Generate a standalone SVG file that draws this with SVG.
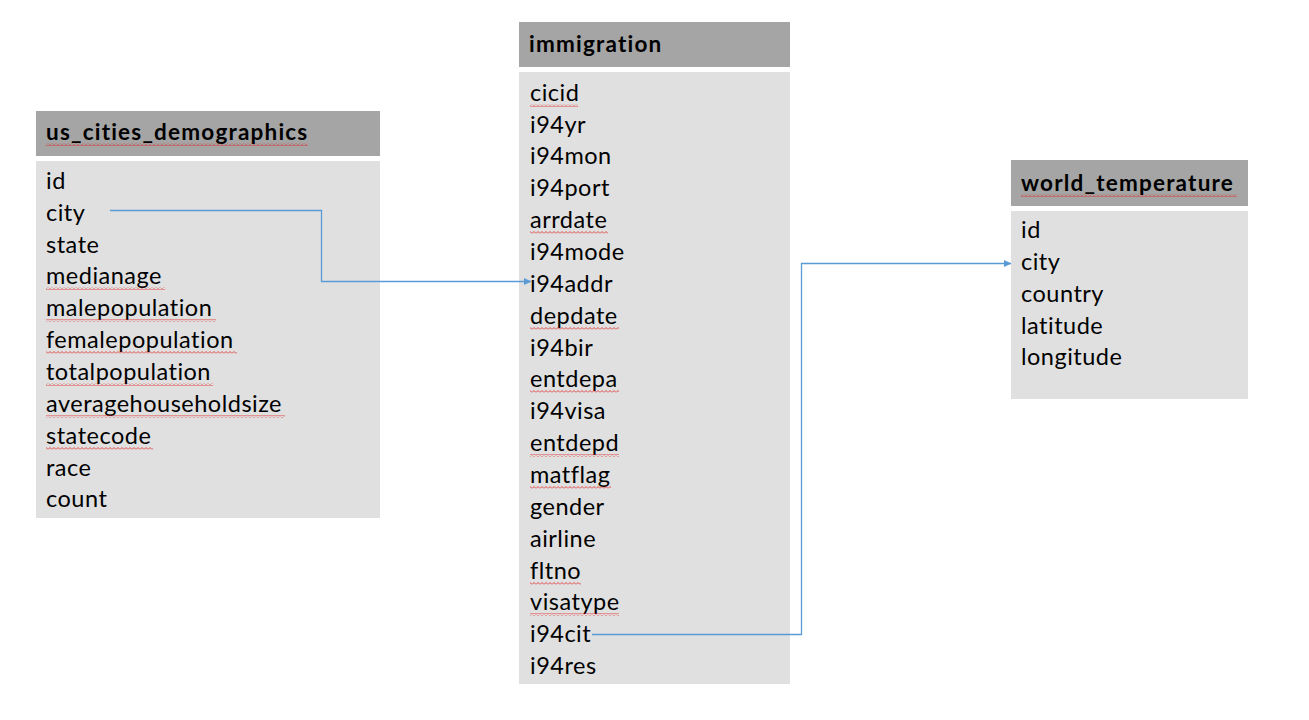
<svg xmlns="http://www.w3.org/2000/svg" width="1309" height="720" viewBox="0 0 1309 720">
<style>
.hdr{fill:#a5a5a5}
.body{fill:#e0e0e0}
.t{font-family:Lato,"Liberation Sans",sans-serif;font-size:23.5px;letter-spacing:0.5px;fill:#000;font-variant-ligatures:none}
.h{font-family:Lato,"Liberation Sans",sans-serif;font-size:22.5px;font-weight:bold;letter-spacing:1.2px;fill:#000;font-variant-ligatures:none}
.sq{fill:url(#wave)}
.conn{fill:none;stroke:#5b9bd5;stroke-width:1.3}
</style>
<defs>
<pattern id="wave" x="0" y="0" width="4" height="3" patternUnits="userSpaceOnUse">
<path d="M0 2.5 L2 0.5 L4 2.5" fill="none" stroke="#e02020" stroke-width="0.8"/>
</pattern>
<marker id="arr" markerWidth="8" markerHeight="8" refX="7" refY="4" orient="auto" markerUnits="userSpaceOnUse">
<path d="M0 0.5 L7.5 4 L0 7.5 Z" fill="#5b9bd5"/>
</marker>
</defs>
<rect width="1309" height="720" fill="#fff"/>

<g id="us_cities_demographics">
<rect class="hdr" x="36" y="111" width="344" height="45"/>
<rect class="body" x="36" y="161" width="344" height="357"/>
<text class="h" x="46" y="140">us_cities_demographics</text>
<rect class="sq" x="46" y="143" width="262" height="3"/>
<text class="t" x="46" y="189">id</text>
<text class="t" x="46" y="221">city</text>
<text class="t" x="46" y="253">state</text>
<text class="t" x="46" y="284">medianage</text>
<text class="t" x="46" y="316">malepopulation</text>
<text class="t" x="46" y="348">femalepopulation</text>
<text class="t" x="46" y="380">totalpopulation</text>
<text class="t" x="46" y="412">averagehouseholdsize</text>
<text class="t" x="46" y="444">statecode</text>
<text class="t" x="46" y="476">race</text>
<text class="t" x="46" y="507">count</text>
<rect class="sq" x="46" y="287" width="119" height="3"/>
<rect class="sq" x="46" y="319" width="170" height="3"/>
<rect class="sq" x="46" y="351" width="191" height="3"/>
<rect class="sq" x="46" y="383" width="167" height="3"/>
<rect class="sq" x="46" y="415" width="239" height="3"/>
<rect class="sq" x="46" y="447" width="107" height="3"/>
</g>

<g id="immigration">
<rect class="hdr" x="519" y="22" width="271" height="45"/>
<rect class="body" x="519" y="72" width="271" height="612"/>
<text class="h" x="529" y="52">immigration</text>
<text class="t" x="530" y="101">cicid</text>
<text class="t" x="530" y="133">i94yr</text>
<text class="t" x="530" y="164">i94mon</text>
<text class="t" x="530" y="196">i94port</text>
<text class="t" x="530" y="228">arrdate</text>
<text class="t" x="530" y="260">i94mode</text>
<text class="t" x="530" y="292">i94addr</text>
<text class="t" x="530" y="324">depdate</text>
<text class="t" x="530" y="356">i94bir</text>
<text class="t" x="530" y="387">entdepa</text>
<text class="t" x="530" y="419">i94visa</text>
<text class="t" x="530" y="451">entdepd</text>
<text class="t" x="530" y="483">matflag</text>
<text class="t" x="530" y="515">gender</text>
<text class="t" x="530" y="547">airline</text>
<text class="t" x="530" y="579">fltno</text>
<text class="t" x="530" y="610">visatype</text>
<text class="t" x="530" y="642">i94cit</text>
<text class="t" x="530" y="674">i94res</text>
<rect class="sq" x="530" y="104" width="48" height="3"/>
<rect class="sq" x="530" y="231" width="78" height="3"/>
<rect class="sq" x="530" y="327" width="89" height="3"/>
<rect class="sq" x="530" y="390" width="89" height="3"/>
<rect class="sq" x="530" y="454" width="89" height="3"/>
<rect class="sq" x="530" y="486" width="81" height="3"/>
<rect class="sq" x="530" y="582" width="51" height="3"/>
<rect class="sq" x="530" y="613" width="89" height="3"/>
</g>

<g id="world_temperature">
<rect class="hdr" x="1011" y="160" width="237" height="46"/>
<rect class="body" x="1011" y="211" width="237" height="188"/>
<text class="h" x="1021" y="191">world_temperature</text>
<rect class="sq" x="1021" y="194" width="216" height="3"/>
<text class="t" x="1021" y="238">id</text>
<text class="t" x="1021" y="270">city</text>
<text class="t" x="1021" y="302">country</text>
<text class="t" x="1021" y="334">latitude</text>
<text class="t" x="1021" y="365">longitude</text>
</g>

<g id="connectors">
<path class="conn" d="M110 210.5 H321.5 V281.5 H531" marker-end="url(#arr)"/>
<path class="conn" d="M592 634.5 H801.5 V263.5 H1011" marker-end="url(#arr)"/>
</g>
</svg>
